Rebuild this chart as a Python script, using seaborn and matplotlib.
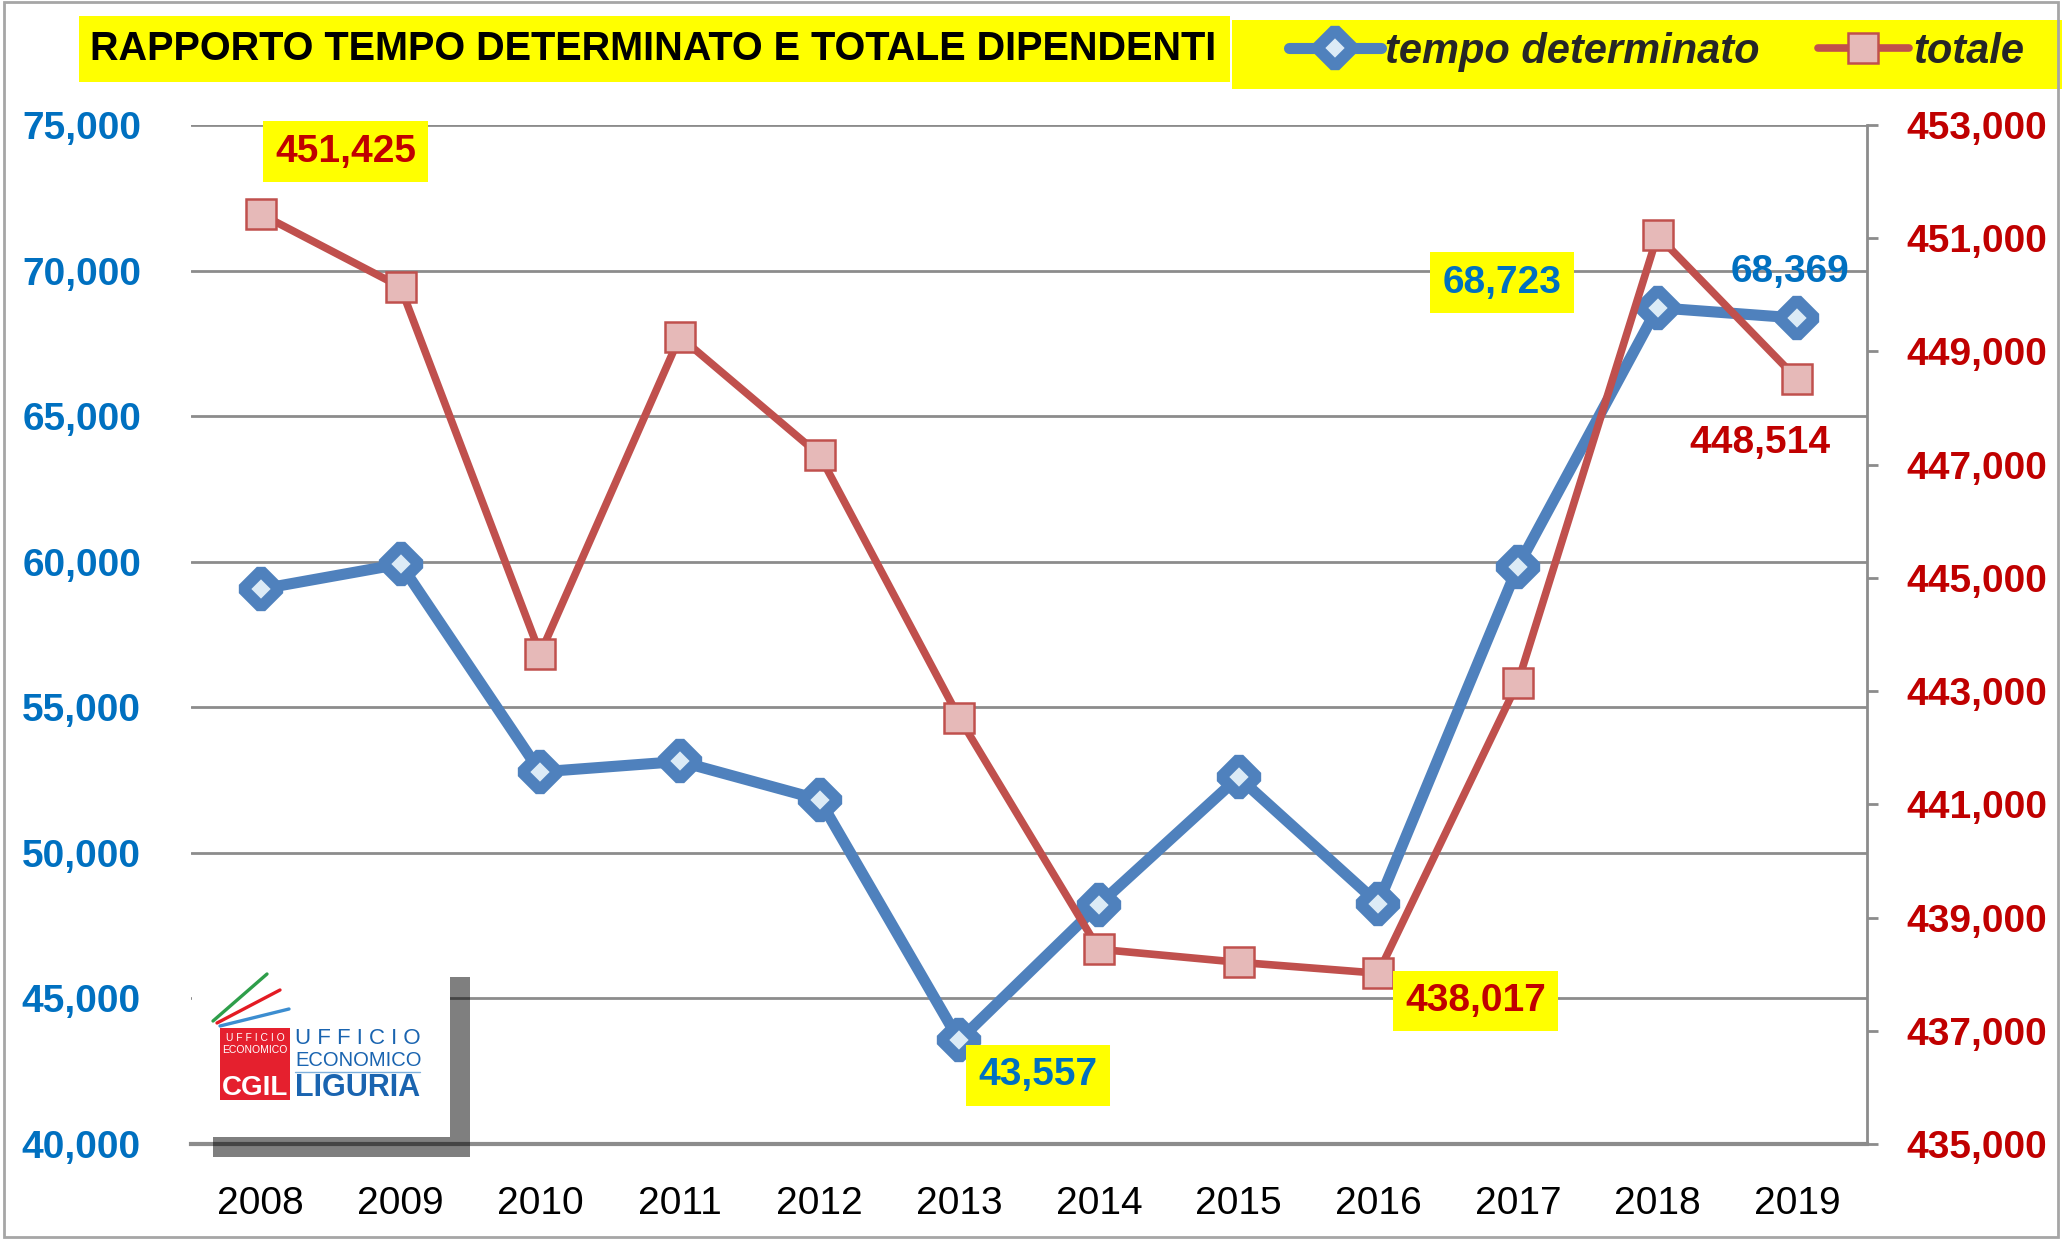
import matplotlib
matplotlib.use("Agg")
import matplotlib.pyplot as plt
from matplotlib.patches import Rectangle
from matplotlib.lines import Line2D
from matplotlib.markers import MarkerStyle
from matplotlib.ticker import FuncFormatter
import seaborn as sns

# --- data ---
years = [2008, 2009, 2010, 2011, 2012, 2013, 2014, 2015, 2016, 2017, 2018, 2019]
tempo_determinato = [59060, 59920, 52780, 53140, 51830, 43557,
                     48220, 52600, 48260, 59830, 68723, 68369]
totale = [451425, 450140, 443660, 449260, 447170, 442530,
          438440, 438210, 438017, 443150, 451050, 448514]
left_ticks = list(range(40000, 75001, 5000))
right_ticks = list(range(435000, 453001, 2000))
series_labels = ["tempo determinato", "totale"]
title_text = "RAPPORTO TEMPO DETERMINATO E TOTALE DIPENDENTI"

BLUE_LINE = "#4F81BD"
RED_LINE = "#C0504D"
BLUE_TXT = "#0070C0"
RED_TXT = "#C00000"
YELLOW = "#FFFF00"
GRID = "#8C8C8C"
NUMF = ["Liberation Sans", "DejaVu Sans"]

W, H = 2062, 1239


def fx(x):
    return x / W


def fy(y):
    return 1 - y / H


sns.set_style("white")
plt.rcParams["font.family"] = NUMF

fig = plt.figure(figsize=(W / 100, H / 100), dpi=100)
ax = fig.add_axes([fx(191), fy(1144), (1867 - 191) / W, (1144 - 125) / H])
ax2 = ax.twinx()

sns.lineplot(x=years, y=tempo_determinato, ax=ax, color=BLUE_LINE, linewidth=8,
             marker=MarkerStyle("D", joinstyle="bevel"), markersize=18,
             markerfacecolor="#DCEBF6", markeredgecolor=BLUE_LINE, markeredgewidth=8.5,
             legend=False)
sns.lineplot(x=years, y=totale, ax=ax2, color=RED_LINE, linewidth=5.5,
             marker="s", markersize=21, markerfacecolor="#E6B9B8",
             markeredgecolor=RED_LINE, markeredgewidth=1.8, legend=False)

# left axis
ax.set_xlim(years[0] - 0.5, years[-1] + 0.5)
ax.set_ylim(left_ticks[0], left_ticks[-1])
ax.set_yticks(left_ticks)
ax.yaxis.set_major_formatter(FuncFormatter(lambda v, p: f"{int(v):,}"))
ax.tick_params(axis="y", length=0, pad=36, labelsize=28, labelcolor=BLUE_TXT)
for lab in ax.get_yticklabels():
    lab.set_fontweight("bold")
ax.set_xticks(years)
ax.tick_params(axis="x", length=0, pad=30, labelsize=28, labelcolor="black")
ax.grid(axis="y", color=GRID, linewidth=2)
ax.grid(axis="x", visible=False)
ax.set_axisbelow(True)
for s in ["left", "top", "right"]:
    ax.spines[s].set_visible(False)
ax.spines["bottom"].set_color(GRID)
ax.spines["bottom"].set_linewidth(3)

# right axis
ax2.set_ylim(right_ticks[0], right_ticks[-1])
ax2.set_yticks(right_ticks)
ax2.yaxis.set_major_formatter(FuncFormatter(lambda v, p: f"{int(v):,}"))
ax2.tick_params(axis="y", direction="out", length=8, width=2, color=GRID, pad=20,
                labelsize=28, labelcolor=RED_TXT)
for lab in ax2.get_yticklabels():
    lab.set_fontweight("bold")
for s in ["left", "top", "bottom"]:
    ax2.spines[s].set_visible(False)
ax2.spines["right"].set_color(GRID)
ax2.spines["right"].set_linewidth(2)
ax2.grid(False)

# value labels
box = dict(boxstyle="square,pad=0.32", facecolor=YELLOW, edgecolor="none")
notes = [
    (ax2, years[0], totale[0], (61, 45), RED_TXT, True),
    (ax, years[5], tempo_determinato[5], (57, -25), BLUE_TXT, True),
    (ax2, years[8], totale[8], (70, -20), RED_TXT, True),
    (ax, years[10], tempo_determinato[10], (-112, 18), BLUE_TXT, True),
    (ax, years[11], tempo_determinato[11], (-5, 33), BLUE_TXT, False),
    (ax2, years[11], totale[11], (-27, -46), RED_TXT, False),
]
for a, x, y, off, col, boxed in notes:
    a.annotate(f"{y:,}", xy=(x, y), xytext=off, textcoords="offset points",
               ha="center", va="center", fontsize=28, fontweight="bold", color=col,
               bbox=box if boxed else None, zorder=10)

# title and legend boxes
fig.add_artist(Rectangle((fx(79), fy(82)), (1230 - 79) / W, (82 - 16) / H,
                         transform=fig.transFigure, facecolor=YELLOW, edgecolor="none"))
fig.text(fx(90), fy(49), title_text, fontsize=28.5, fontweight="bold",
         ha="left", va="center", color="black")
fig.add_artist(Rectangle((fx(1232), fy(89)), (W - 1232) / W, (89 - 20) / H,
                         transform=fig.transFigure, facecolor=YELLOW, edgecolor="none"))
handles = [ax.get_lines()[0], ax2.get_lines()[0]]
fig.legend(handles, series_labels, loc="center left", bbox_to_anchor=(fx(1289), fy(52)),
           frameon=False, ncol=2, handlelength=2.2, handletextpad=0.1, columnspacing=1.4,
           borderpad=0, borderaxespad=0,
           prop=dict(size=30, weight="bold", style="italic"))

# logo (CGIL Liguria) with its shadow
fig.add_artist(Rectangle((fx(192), fy(1140)), (450 - 192) / W, (1140 - 975) / H,
                         transform=fig.transFigure, facecolor="white", edgecolor="none"))
fig.add_artist(Rectangle((fx(450), fy(1157)), 20 / W, (1157 - 977) / H,
                         transform=fig.transFigure, facecolor="black", alpha=0.5,
                         edgecolor="none"))
fig.add_artist(Rectangle((fx(213), fy(1157)), (450 - 213) / W, 20 / H,
                         transform=fig.transFigure, facecolor="black", alpha=0.5,
                         edgecolor="none"))
for (x0, y0, x1, y1), c in [((213, 1021, 267, 974), "#2E9E4A"),
                            ((217, 1023, 280, 990), "#E31B23"),
                            ((220, 1026, 289, 1009), "#3C8DD0")]:
    fig.add_artist(Line2D([fx(x0), fx(x1)], [fy(y0), fy(y1)], transform=fig.transFigure,
                          color=c, linewidth=2.4, solid_capstyle="round"))
fig.add_artist(Rectangle((fx(220), fy(1100)), 70 / W, 72 / H,
                         transform=fig.transFigure, facecolor="#E5202E", edgecolor="none"))
fig.text(fx(255), fy(1038), "U F F I C I O", fontsize=7.5, color="white", ha="center", va="center")
fig.text(fx(255), fy(1050), "ECONOMICO", fontsize=7.5, color="white", ha="center", va="center")
fig.text(fx(255), fy(1088), "CGIL", fontsize=20, fontweight="heavy", color="white",
         ha="center", va="center")
fig.text(fx(295), fy(1038), "U F F I C I O", fontsize=16, color="#1A64B0", ha="left", va="center")
fig.text(fx(295), fy(1060), "ECONOMICO", fontsize=14.5, color="#1A64B0", ha="left", va="center")
fig.add_artist(Line2D([fx(295), fx(420)], [fy(1072), fy(1072)], transform=fig.transFigure,
                      color="#7FB0DC", linewidth=1))
fig.text(fx(295), fy(1088), "LIGURIA", fontsize=22, fontweight="bold", color="#1A64B0",
         ha="left", va="center")

# outer frame
fig.add_artist(Rectangle((0.002, 0.002), 0.996, 0.996, transform=fig.transFigure,
                         fill=False, edgecolor="#A6A6A6", linewidth=2))

fig.savefig("out.png", dpi=100)
plt.close(fig)
